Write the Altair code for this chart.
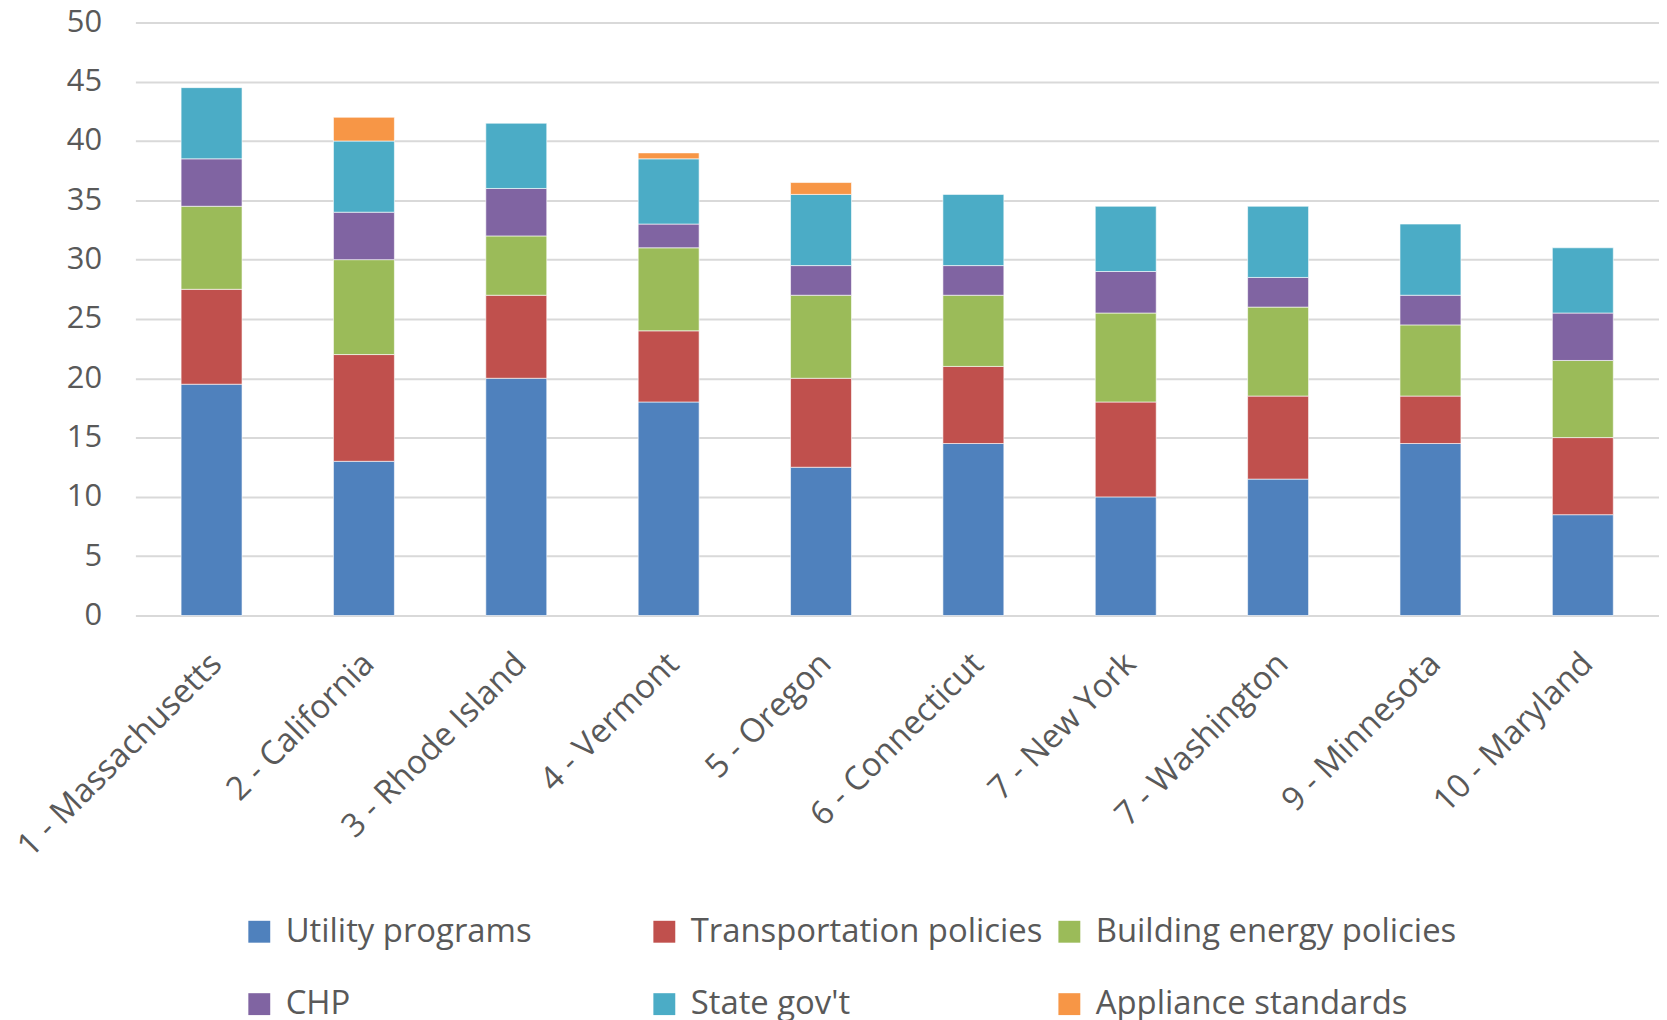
import altair as alt
import pandas as pd

states = ["1 - Massachusetts", "2 - California", "3 - Rhode Island", "4 - Vermont",
          "5 - Oregon", "6 - Connecticut", "7 - New York", "7 - Washington",
          "9 - Minnesota", "10 - Maryland"]
series = ["Utility programs", "Transportation policies", "Building energy policies",
          "CHP", "State gov't", "Appliance standards"]
utility = [19.5, 13, 20, 18, 12.5, 14.5, 10, 11.5, 14.5, 8.5]
transport = [8, 9, 7, 6, 7.5, 6.5, 8, 7, 4, 6.5]
building = [7, 8, 5, 7, 7, 6, 7.5, 7.5, 6, 6.5]
chp = [4, 4, 4, 2, 2.5, 2.5, 3.5, 2.5, 2.5, 4]
stategov = [6, 6, 5.5, 5.5, 6, 6, 5.5, 6, 6, 5.5]
appliance = [0, 2, 0, 0.5, 1, 0, 0, 0, 0, 0]
colors = ["#4F81BD", "#C0504D", "#9BBB59", "#8064A2", "#4BACC6", "#F79646"]

rows = []
for si, (name, vals) in enumerate(zip(series, [utility, transport, building, chp, stategov, appliance])):
    for st, v in zip(states, vals):
        if v > 0:
            rows.append({"state": st, "series": name, "order": si, "value": v})
df = pd.DataFrame(rows)

FONT = "Open Sans"
GREY = "#595959"

chart = alt.Chart(df).mark_bar(stroke="white", strokeWidth=0.6).encode(
    x=alt.X("state:N", sort=states,
            scale=alt.Scale(paddingInner=0.6, paddingOuter=0.3),
            axis=alt.Axis(title=None, labelAngle=-45, labelAlign="right", labelBaseline="middle",
                          labelFontSize=33, labelFont=FONT, labelColor=GREY, labelPadding=43,
                          labelOffset=5, labelLimit=0, ticks=False, domain=False, grid=False)),
    y=alt.Y("value:Q", stack="zero",
            scale=alt.Scale(domain=[0, 50], nice=False),
            axis=alt.Axis(title=None, values=list(range(0, 51, 5)), labelFontSize=31,
                          labelFont=FONT, labelColor=GREY, labelPadding=34, ticks=False,
                          domain=False, gridColor="#d9d9d9", gridWidth=2)),
    color=alt.Color("series:N", sort=series,
                    scale=alt.Scale(domain=series, range=colors),
                    legend=alt.Legend(title=None, orient="none", legendX=108, legendY=897,
                                      direction="horizontal", columns=3, gridAlign="all",
                                      columnPadding=1, rowPadding=39, symbolType="square",
                                      symbolSize=484, symbolStrokeWidth=0, labelFontSize=33,
                                      labelFont=FONT, labelColor=GREY, labelOffset=10,
                                      labelLimit=0)),
    order=alt.Order("order:Q", sort="ascending"),
).properties(
    width=1531, height=596,
    padding={"left": 128, "top": 12, "right": 0, "bottom": 410},
    autosize=alt.AutoSizeParams(type="none"),
    background="white",
).configure_view(strokeWidth=0)

chart.save("out.html", embed_options={"renderer": "svg", "actions": False})
